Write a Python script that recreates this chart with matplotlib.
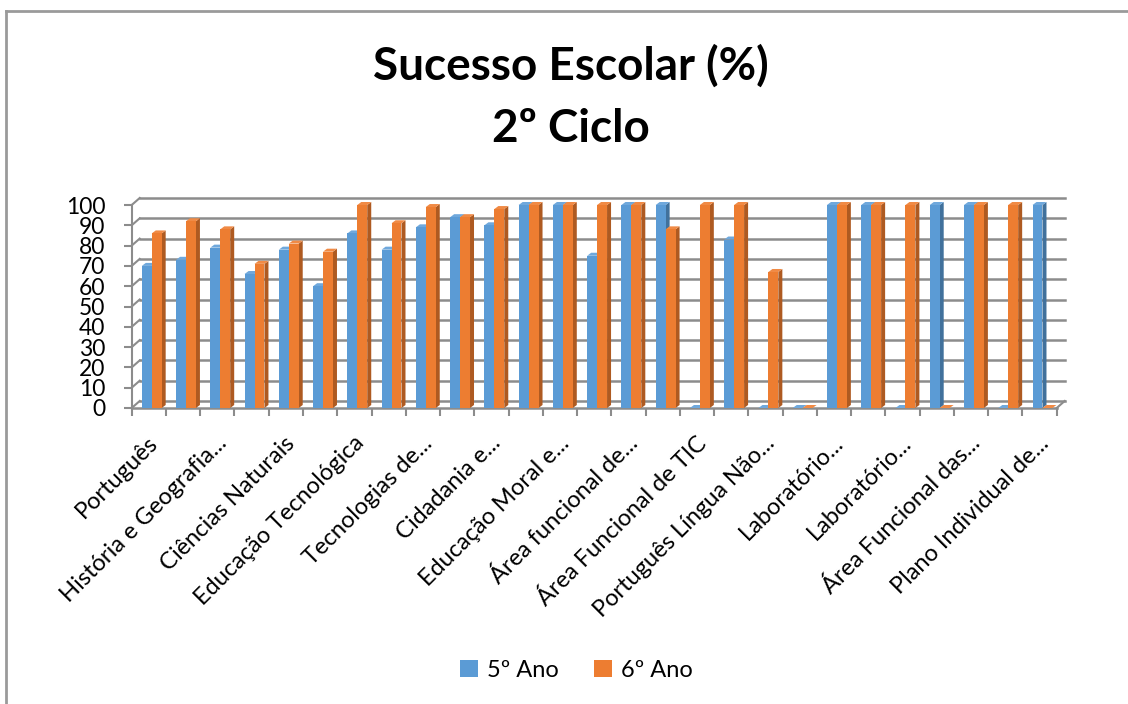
import numpy as np
import matplotlib
matplotlib.use("Agg")
import matplotlib.pyplot as plt
import matplotlib.transforms as mtransforms
from matplotlib.patches import Patch
from matplotlib.lines import Line2D

plt.rcParams['font.family'] = ['Lato', 'DejaVu Sans']

# dados - 27 disciplinas, só metade tem rótulo visível
rotulos = ["Português", "História e Geografia...", "Ciências Naturais", "Educação Tecnológica",
           "Tecnologias de...", "Cidadania e...", "Educação Moral e...", "Área funcional de...",
           "Área Funcional de TIC", "Português Língua Não...", "Laboratório...", "Laboratório...",
           "Área Funcional das...", "Plano Individual de..."]
n_cat = 27
ano5 = [70, 73, 79, 66, 78, 60, 86, 78, 89, 94, 90, 100, 100, 75, 100, 100, 0, 83, 0, 0,
        100, 100, 0, 100, 100, 0, 100]
ano6 = [86, 92, 88, 71, 81, 77, 100, 91, 99, 94, 98, 100, 100, 100, 100, 88, 100, 100, 67, 0,
        100, 100, 100, 0, 100, 100, 0]
yticks = list(range(0, 101, 10))

cor5, cor5_lado, cor5_topo = '#5B9BD5', '#41719C', '#6FA8DC'
cor6, cor6_lado, cor6_topo = '#ED7D31', '#AE5A21', '#F08A45'
cinza = '#8C8C8C'

fig = plt.figure(figsize=(11.28, 7.04), dpi=100)
ax = fig.add_axes([131.7/1128, 296/704, 925/1128, 203/704])
ax.set_xlim(-0.5, n_cat - 0.5)
ax.set_ylim(0, 100)

# profundidade "3D" em unidades dos dados
px_x = (n_cat) / 925.0
px_y = 100 / 203.0
wall_dx, wall_dy = 8 * px_x, 7 * px_y
bar_dx, bar_dy = 4 * px_x, 3 * px_y

# parede de fundo e grelha
for v in yticks:
    ax.plot([-0.5 + wall_dx, n_cat - 0.5 + wall_dx], [v + wall_dy, v + wall_dy],
            color=cinza, lw=1.8, zorder=1, clip_on=False)
    ax.plot([-0.5, -0.5 + wall_dx], [v, v + wall_dy], color=cinza, lw=1.5, zorder=1, clip_on=False)
ax.plot([-0.5, n_cat - 0.5], [0, 0], color=cinza, lw=1.8, zorder=1, clip_on=False)
ax.plot([n_cat - 0.5, n_cat - 0.5 + wall_dx], [0, wall_dy], color=cinza, lw=1.5, zorder=1, clip_on=False)
ax.plot([-0.5, -0.5], [0, 100], color=cinza, lw=1.5, zorder=1, clip_on=False)

# barras com efeito 3D
w = 0.29
x = np.arange(n_cat)
def barra3d(x0, v, cf, cl, ct, z):
    ax.fill([x0 + w, x0 + w + bar_dx, x0 + w + bar_dx, x0 + w], [0, bar_dy, v + bar_dy, v],
            color=cl, zorder=z, clip_on=False, lw=0)
    ax.fill([x0, x0 + bar_dx, x0 + w + bar_dx, x0 + w], [v, v + bar_dy, v + bar_dy, v],
            color=ct, zorder=z, clip_on=False, lw=0)
    ax.bar(x0, v, width=w, align='edge', color=cf, zorder=z, clip_on=False, lw=0)

for i in range(n_cat):
    barra3d(x[i] - 0.205, ano5[i], cor5, cor5_lado, cor5_topo, 3 + 2 * i)
    barra3d(x[i] + 0.085, ano6[i], cor6, cor6_lado, cor6_topo, 4 + 2 * i)

for s in ax.spines.values():
    s.set_visible(False)

ax.set_yticks(yticks)
ax.set_yticklabels([str(v) for v in yticks], fontsize=16.5)
ax.tick_params(axis='y', length=6, color=cinza, width=1.5, pad=13)

ax.set_xticks(x[::2])
ax.set_xticklabels(rotulos, rotation=45, ha='right', va='center', rotation_mode='anchor', fontsize=17)
ax.set_xticks(np.arange(-0.5, n_cat, 1), minor=True)
ax.tick_params(axis='x', which='major', length=0, pad=23)
ax.tick_params(axis='x', which='minor', length=6, color=cinza, width=1.5)
desloc = mtransforms.ScaledTranslation(0.06, 0, fig.dpi_scale_trans)
for lbl in ax.get_xticklabels():
    lbl.set_transform(lbl.get_transform() + desloc)

fig.text(0.506, 1 - 80/704, "Sucesso Escolar (%)", ha='center', va='baseline',
         fontsize=33, fontweight='bold')
fig.text(0.506, 1 - 141.7/704, "2º Ciclo", ha='center', va='baseline',
         fontsize=33, fontweight='bold')

handles = [Patch(facecolor=cor5, label='5º Ano'), Patch(facecolor=cor6, label='6º Ano')]
fig.legend(handles=handles, loc='center', bbox_to_anchor=(0.511, 0.048), ncol=2, frameon=False,
           fontsize=17, handlelength=0.75, handleheight=0.75, handletextpad=0.4, columnspacing=1.5)

# moldura (só topo e esquerda visíveis no recorte)
fig.add_artist(Line2D([6/1128, 1], [1 - 11/704, 1 - 11/704], color='#9A9A9A', lw=2))
fig.add_artist(Line2D([6/1128, 6/1128], [0, 1 - 11/704], color='#9A9A9A', lw=2))

fig.savefig('out.png', dpi=100)
